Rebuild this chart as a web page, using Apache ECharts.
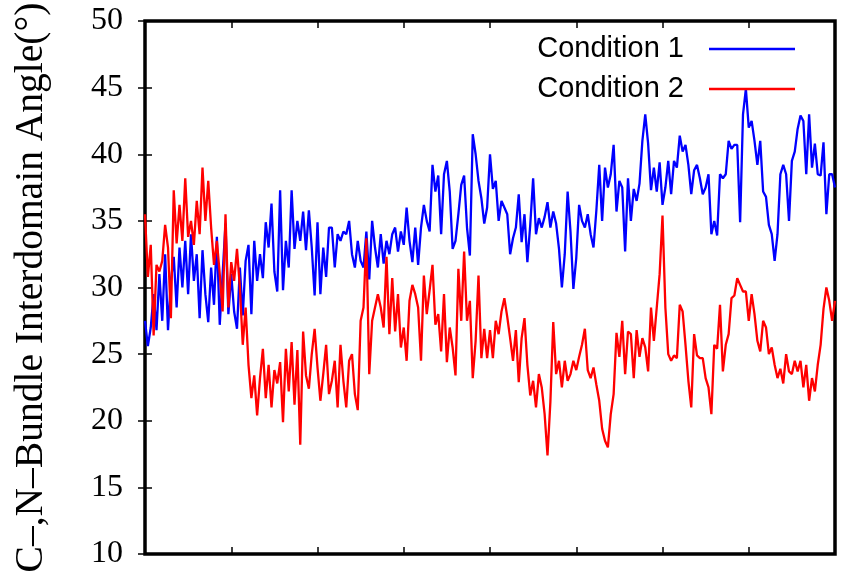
<!DOCTYPE html>
<html>
<head>
<meta charset="utf-8">
<script src="https://cdn.jsdelivr.net/npm/echarts@6/dist/echarts.min.js"></script>
<style>
  html, body { margin: 0; padding: 0; background: #fff; }
  #myChart { width: 859px; height: 571px; }
</style>
</head>
<body>
<div id="myChart"></div>
<script>
/* values, one sample every ~2.9 px of the frame */
var cond1 = [
    27.5, 25.6, 27.0, 29.5, 26.8, 31.0, 27.5, 32.5, 26.8, 30.5, 32.3, 28.5, 33.0, 30.0, 33.5, 29.5, 34.0, 30.5, 32.5, 27.7, 32.8, 29.5, 27.4, 31.5, 28.7, 33.8, 27.2, 31.0, 34.8, 28.0,
    31.0, 28.2, 26.9, 31.5, 27.9, 32.0, 33.2, 28.0, 33.5, 30.5, 32.5, 30.7, 34.9, 33.0, 36.3, 31.2, 29.7, 37.3, 29.8, 33.5, 31.5, 37.3, 32.9, 35.0, 33.5, 35.7, 32.8, 35.8, 33.0, 29.4,
    34.9, 29.5, 33.0, 30.8, 34.5, 34.5, 31.5, 34.0, 33.5, 34.2, 34.0, 35.0, 32.5, 31.5, 33.5, 32.0, 31.5, 34.2, 30.6, 35.0, 33.0, 31.5, 34.0, 31.8, 33.5, 32.5, 34.0, 34.5, 32.7, 34.2,
    33.2, 36.0, 33.5, 31.9, 34.5, 31.7, 34.5, 36.2, 35.0, 34.2, 39.2, 37.2, 38.4, 34.0, 38.5, 39.5, 37.2, 32.9, 33.5, 35.5, 37.7, 38.4, 34.5, 32.4, 41.5, 40.0, 38.0, 36.7, 34.8, 36.0,
    40.0, 37.4, 38.0, 35.0, 36.5, 36.0, 35.5, 32.5, 33.7, 34.5, 37.0, 33.4, 35.5, 31.9, 34.7, 38.2, 34.0, 35.2, 34.5, 35.3, 36.4, 34.5, 35.7, 34.8, 32.9, 30.0, 32.5, 37.2, 34.2, 29.9,
    32.2, 36.2, 35.0, 34.5, 35.5, 34.0, 33.0, 35.8, 39.2, 35.0, 39.0, 37.5, 38.5, 40.7, 35.7, 38.0, 37.5, 32.7, 38.2, 35.0, 37.4, 36.5, 37.8, 41.0, 43.0, 40.8, 37.3, 39.0, 37.2, 39.4,
    36.2, 37.5, 39.5, 37.0, 39.5, 39.0, 41.4, 40.2, 40.7, 39.2, 37.0, 38.8, 39.2, 38.2, 37.0, 37.5, 38.5, 34.0, 35.0, 33.9, 38.5, 38.2, 38.5, 41.0, 40.4, 40.7, 40.7, 34.9, 43.0, 44.9,
    42.0, 42.5, 41.0, 39.2, 41.0, 37.2, 36.8, 34.7, 34.0, 32.0, 34.0, 38.5, 39.2, 38.5, 35.0, 39.5, 40.2, 41.9, 42.9, 42.5, 38.5, 43.0, 39.0, 40.8, 38.5, 38.4, 40.9, 35.5, 38.5, 38.5, 37.5
];
var cond2 = [
    35.5, 30.8, 33.2, 26.4, 31.7, 31.2, 32.0, 34.7, 33.0, 27.7, 37.3, 33.3, 36.2, 33.5, 38.2, 33.8, 35.0, 33.2, 36.5, 34.0, 39.0, 35.0, 38.0, 34.5, 31.7, 33.5, 31.0, 28.2, 35.5, 28.5,
    31.9, 30.5, 32.9, 30.0, 25.7, 28.5, 24.2, 21.7, 23.4, 20.4, 23.2, 25.4, 21.7, 24.2, 21.0, 23.8, 22.8, 24.4, 19.9, 25.4, 22.2, 25.9, 21.2, 25.3, 18.2, 26.7, 23.4, 22.4, 25.0, 26.9,
    24.0, 21.5, 23.5, 25.7, 22.0, 23.0, 24.5, 21.0, 25.7, 23.0, 21.0, 24.5, 25.0, 22.0, 20.8, 27.5, 28.5, 33.7, 23.5, 27.5, 28.5, 29.5, 28.5, 27.0, 32.3, 26.5, 30.7, 26.7, 29.5, 25.5,
    27.0, 24.5, 29.0, 30.2, 29.5, 28.5, 24.5, 30.9, 28.0, 29.8, 31.7, 27.2, 28.0, 25.2, 29.5, 24.4, 27.0, 25.5, 23.4, 31.4, 27.5, 32.7, 27.5, 29.0, 23.2, 26.0, 30.9, 24.7, 26.9, 24.7,
    26.8, 24.7, 27.5, 26.5, 28.2, 29.2, 27.8, 26.2, 24.5, 26.8, 22.9, 26.2, 27.7, 24.2, 21.9, 23.0, 21.0, 23.5, 22.5, 20.5, 17.4, 21.4, 27.4, 23.5, 24.5, 22.5, 24.5, 23.0, 23.5, 24.5,
    23.8, 24.8, 25.7, 26.9, 23.8, 23.2, 24.0, 22.7, 21.5, 19.4, 18.5, 18.0, 20.5, 22.0, 26.6, 24.8, 27.5, 23.5, 26.7, 26.5, 23.2, 26.8, 24.8, 26.2, 25.5, 23.7, 28.5, 26.0, 28.5, 31.0,
    35.4, 28.5, 25.0, 24.5, 24.9, 24.7, 28.7, 28.2, 25.7, 23.0, 21.0, 26.5, 24.9, 24.7, 24.7, 23.2, 22.5, 20.5, 25.7, 25.4, 28.7, 23.7, 25.7, 26.5, 29.2, 29.4, 30.7, 30.2, 29.7, 29.7,
    27.5, 29.5, 28.0, 26.0, 25.2, 27.5, 27.0, 25.0, 25.5, 24.2, 23.2, 23.9, 22.8, 25.0, 23.7, 23.5, 24.5, 23.7, 24.5, 22.5, 24.2, 21.5, 23.2, 22.2, 24.2, 25.7, 28.4, 30.0, 29.0, 27.5, 29.0
];
var seriesNames = ['Condition 1', 'Condition 2'];
var yTitle = 'C\u2013,N\u2013Bundle Interdomain Angle(\u00b0)';

function toPairs(arr) {
    var out = [];
    for (var i = 0; i < arr.length; i++) {
        out.push([i, arr[i]]);
    }
    return out;
}

var myChart = echarts.init(document.getElementById('myChart'));
var serif = 'Liberation Serif';
var tick = { show: true, inside: true, length: 7, lineStyle: { color: '#000', width: 1.5 } };

var xBase = {
    type: 'value', min: 0, max: cond1.length - 1, interval: 30,
    axisLine: { show: false }, axisTick: tick,
    axisLabel: { show: false }, splitLine: { show: false }
};
var yBase = {
    type: 'value', min: 10, max: 50, interval: 5,
    axisLine: { show: false }, axisTick: tick, splitLine: { show: false }
};

myChart.setOption({
    animation: false,
    backgroundColor: '#fff',
    grid: {
        left: 145, right: 24, top: 21, bottom: 17,
        outerBoundsMode: 'none', containLabel: false,
        show: true, borderColor: '#000', borderWidth: 3.5, backgroundColor: 'transparent'
    },
    legend: {
        orient: 'vertical',
        right: 59, top: 28,
        align: 'right',
        icon: 'rect',
        itemWidth: 86, itemHeight: 2.5, itemGap: 8,
        textStyle: { fontFamily: 'Liberation Sans', fontSize: 29, color: '#000', lineHeight: 32, padding: [0, 20, 0, 0] },
        data: seriesNames
    },
    xAxis: [
        xBase,
        Object.assign({}, xBase, { position: 'top' })
    ],
    yAxis: [
        Object.assign({}, yBase, {
            position: 'left',
            axisLabel: { margin: 22, fontFamily: serif, fontSize: 32, color: '#000' },
            name: yTitle,
            nameLocation: 'middle',
            nameGap: 93,
            nameTextStyle: { fontFamily: serif, fontSize: 39.5, color: '#000' }
        }),
        Object.assign({}, yBase, { position: 'right', axisLabel: { show: false } })
    ],
    series: [
        {
            name: seriesNames[0], type: 'line', symbol: 'none',
            lineStyle: { color: '#0000ff', width: 2.3 }, itemStyle: { color: '#0000ff' },
            data: toPairs(cond1)
        },
        {
            name: seriesNames[1], type: 'line', symbol: 'none',
            lineStyle: { color: '#ff0000', width: 2.3 }, itemStyle: { color: '#ff0000' },
            data: toPairs(cond2)
        }
    ]
});
</script>
</body>
</html>
